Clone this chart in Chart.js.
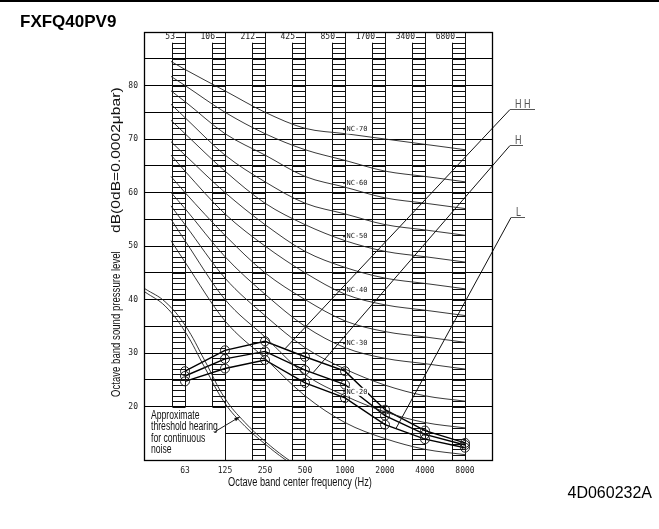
<!DOCTYPE html>
<html>
<head>
<meta charset="utf-8">
<script src="https://cdn.jsdelivr.net/npm/chart.js@4.4.1/dist/chart.umd.min.js"></script>
<style>
  html, body { margin: 0; padding: 0; background: #fff; }
  canvas { display: block; }
</style>
</head>
<body>
<canvas id="nc-chart" width="659" height="529"></canvas>
<script>
// octave band centre frequencies (bottom ticks) and the marks in the top row
var bands = ['63', '125', '250', '500', '1000', '2000', '4000', '8000'];
var edgeLabels = ['53', '106', '212', '425', '850', '1700', '3400', '6800'];

// NC curves, x in octaves from 63 Hz; first point is the start at the left edge of the 63 Hz column
var ncX = [-0.35, 0, 1, 2, 3, 4, 5, 6, 7];
var nc70 = [84.5, 83, 79, 75, 72, 71, 70, 69, 68];
var nc65 = [81.7, 80, 75, 71, 68, 66, 64, 63, 62];
var nc60 = [79, 77, 71, 67, 63, 61, 59, 58, 57];
var nc55 = [76.5, 74, 67, 62, 58, 56, 54, 53, 52];
var nc50 = [73.5, 71, 64, 58, 54, 51, 49, 48, 47];
var nc45 = [69.5, 67, 60, 54, 49, 46, 44, 43, 42];
var nc40 = [67, 64, 56, 50, 45, 41, 39, 38, 37];
var nc35 = [63, 60, 52, 45, 40, 36, 34, 33, 32];
var nc30 = [60, 57, 48, 41, 35, 31, 29, 28, 27];
var nc25 = [57.5, 54, 44, 37, 31, 27, 24, 22, 21];
var nc20 = [55, 51, 40, 33, 26, 22, 19, 17, 16];
var nc15 = [51, 47, 36, 29, 22, 17, 14, 12, 11];

// measured levels per band
var levelHH = [26.6, 30.5, 32.2, 29.3, 26.6, 19.4, 15.5, 13.2];
var levelH = [25.7, 28.9, 30.3, 26.8, 24.1, 18.3, 14.8, 12.8];
var levelL = [24.7, 27.1, 28.7, 24.4, 21.6, 16.6, 13.9, 12.3];

// threshold of hearing (double line)
var thrX = [-1, -0.5, 0, 0.5, 1, 1.5, 2, 2.5, 3];
var thrA = [42, 39.6, 35.2, 28.5, 21.5, 17, 13.5, 10.5, 8];
var thrB = [41.4, 38.8, 34, 27.2, 20.6, 16.3, 13, 10.1, 7.7];

var yTicks = [10, 15, 20, 25, 30, 35, 40, 45, 50, 55, 60, 65, 70, 75, 80, 85, 90];

function pts(xs, ys) {
  return ys.map(function(v, i) { return {x: xs[i], y: v}; });
}
var bandX = bands.map(function(b, i) { return i; });

var ncList = [nc70, nc65, nc60, nc55, nc50, nc45, nc40, nc35, nc30, nc25, nc20, nc15];
var ncTitles = ['NC-70', '', 'NC-60', '', 'NC-50', '', 'NC-40', '', 'NC-30', '', 'NC-20', ''];

var datasets = [];
ncList.forEach(function(c, k) {
  datasets.push({
    label: ncTitles[k] || 'nc',
    data: pts(ncX, c),
    borderColor: '#222',
    borderWidth: 0.9,
    pointRadius: 0,
    cubicInterpolationMode: 'monotone'
  });
});
[thrA, thrB].forEach(function(t) {
  datasets.push({
    label: 'threshold',
    data: pts(thrX, t),
    borderColor: '#222',
    borderWidth: 0.9,
    pointRadius: 0,
    tension: 0.4
  });
});
[levelHH, levelH, levelL].forEach(function(s, k) {
  datasets.push({
    label: ['HH', 'H', 'L'][k],
    data: pts(bandX, s),
    borderColor: '#000',
    borderWidth: 1.4,
    tension: 0,
    pointRadius: 4.5,
    pointBorderWidth: 1,
    pointBorderColor: '#222',
    pointBackgroundColor: 'rgba(0,0,0,0)'
  });
});

var mono = '"DejaVu Sans Mono", monospace';
var sans = '"Liberation Sans", Arial, sans-serif';

function line(ctx, x1, y1, x2, y2) {
  ctx.beginPath();
  ctx.moveTo(x1, y1);
  ctx.lineTo(x2, y2);
  ctx.stroke();
}

// condensed / stretched text, like the faces of the original drawing
function narrowText(ctx, t, x, y, size, sx) {
  ctx.save();
  ctx.translate(x, y);
  ctx.scale(sx, 1);
  ctx.font = size + 'px ' + sans;
  ctx.fillText(t, 0, 0);
  ctx.restore();
}

var decor = {
  id: 'decor',
  beforeDatasetsDraw: function(chart) {
    var ctx = chart.ctx, xs = chart.scales.x, ys = chart.scales.y, a = chart.chartArea;
    ctx.save();
    // white panel for the threshold note
    var boxR = Math.round(xs.getPixelForValue(1)) + 0.5;
    ctx.fillStyle = '#fff';
    ctx.fillRect(a.left, ys.getPixelForValue(20) + 1, boxR - a.left, a.bottom - ys.getPixelForValue(20) - 1);
    // hatched columns
    ctx.strokeStyle = '#111';
    ctx.lineWidth = 1;
    bands.forEach(function(b, i) {
      var xl = Math.round(xs.getPixelForValue(i - 0.33)) + 0.5;
      var xr = Math.round(xs.getPixelForValue(i)) + 0.5;
      var low = i < 2 ? 20 : 10;
      line(ctx, xr, a.top, xr, i === 1 ? a.bottom : ys.getPixelForValue(low));
      line(ctx, xl, ys.getPixelForValue(88), xl, ys.getPixelForValue(low));
      for (var d = 88; d >= low; d--) {
        var yy = Math.round(ys.getPixelForValue(d)) + 0.5;
        line(ctx, xl, yy, xr, yy);
      }
    });
    ctx.restore();
  },
  afterDatasetsDraw: function(chart) {
    var ctx = chart.ctx, xs = chart.scales.x, ys = chart.scales.y, a = chart.chartArea;
    ctx.save();
    // top row labels
    ctx.font = '8px ' + mono;
    ctx.fillStyle = '#222';
    ctx.strokeStyle = '#222';
    ctx.lineWidth = 1;
    ctx.textAlign = 'right';
    ctx.textBaseline = 'middle';
    var yh = ys.getPixelForValue(89);
    edgeLabels.forEach(function(t, i) {
      var xr = xs.getPixelForValue(i);
      ctx.fillText(t, xr - 10, yh);
      line(ctx, xr - 9, Math.round(yh) + 0.5, xr, Math.round(yh) + 0.5);
    });
    // NC labels sitting on their curves
    ctx.font = '7px ' + mono;
    ctx.textAlign = 'center';
    ncList.forEach(function(c, k) {
      if (!ncTitles[k]) return;
      var x = xs.getPixelForValue(4.3), y = ys.getPixelForValue(c[5]) - 4;
      ctx.fillStyle = '#fff';
      ctx.fillRect(x - 11, y - 4, 22, 8);
      ctx.fillStyle = '#222';
      ctx.fillText(ncTitles[k], x, y);
      line(ctx, x - 14, y, x - 11, y);
    });
    // threshold note
    ctx.textAlign = 'left';
    ctx.textBaseline = 'middle';
    ctx.fillStyle = '#111';
    var note = ['Approximate', 'threshold hearing', 'for continuous', 'noise'];
    var y20 = ys.getPixelForValue(20);
    note.forEach(function(t, i) {
      narrowText(ctx, t, a.left + 7, y20 + 9 + i * 11.5, 12, 0.72);
    });
    var p1x = xs.getPixelForValue(0.75), p1y = ys.getPixelForValue(15.3);
    var p2x = xs.getPixelForValue(1.375), p2y = ys.getPixelForValue(18.1);
    line(ctx, p1x, p1y, p2x, p2y);
    var ang = Math.atan2(p2y - p1y, p2x - p1x);
    ctx.beginPath();
    ctx.moveTo(p2x, p2y);
    ctx.lineTo(p2x - 6 * Math.cos(ang - 0.3), p2y - 6 * Math.sin(ang - 0.3));
    ctx.lineTo(p2x - 6 * Math.cos(ang + 0.3), p2y - 6 * Math.sin(ang + 0.3));
    ctx.closePath();
    ctx.fill();
    // leaders to HH / H / L
    var leaders = [
      {t: 'H H', lx: 8.125, lx2: 8.75, ly: 75.7, ex: 2.5, ey: 30.8},
      {t: 'H', lx: 8.125, lx2: 8.45, ly: 68.8, ex: 3.2, ey: 26.3},
      {t: 'L', lx: 8.15, lx2: 8.5, ly: 55.4, ex: 5.275, ey: 15.9}
    ];
    ctx.fillStyle = '#555';
    ctx.textBaseline = 'alphabetic';
    leaders.forEach(function(o) {
      var x1 = xs.getPixelForValue(o.lx), x2 = xs.getPixelForValue(o.lx2);
      var y1 = Math.round(ys.getPixelForValue(o.ly)) + 0.5;
      ctx.strokeStyle = '#111';
      line(ctx, xs.getPixelForValue(o.ex), ys.getPixelForValue(o.ey), x1, y1);
      ctx.strokeStyle = '#555';
      line(ctx, x1, y1, x2, y1);
      narrowText(ctx, o.t, x1 + 5, y1 - 2, 12, 0.75);
    });
    // frame
    ctx.lineWidth = 1.3;
    ctx.strokeStyle = '#000';
    ctx.strokeRect(Math.round(a.left) + 0.5, Math.round(a.top) + 0.5, Math.round(a.right - a.left), Math.round(a.bottom - a.top));
    ctx.restore();
  },
  afterDraw: function(chart) {
    var ctx = chart.ctx;
    ctx.save();
    ctx.fillStyle = '#000';
    ctx.fillRect(0, 0, chart.width, 2);
    ctx.font = 'bold 17px ' + sans;
    ctx.textBaseline = 'middle';
    ctx.textAlign = 'left';
    ctx.fillText('FXFQ40PV9', 20, 22);
    ctx.font = '16px ' + sans;
    ctx.textAlign = 'right';
    ctx.fillText('4D060232A', 652, 494);
    // axis titles
    ctx.fillStyle = '#111';
    ctx.textAlign = 'center';
    narrowText(ctx, 'Octave band center frequency (Hz)', 300, 483, 12, 0.77);
    ctx.save();
    ctx.translate(117, 0);
    ctx.rotate(-Math.PI / 2);
    ctx.textAlign = 'left';
    narrowText(ctx, 'Octave band sound pressure level', -397, 0, 12, 0.8);
    narrowText(ctx, 'dB(0dB=0.0002\u03bcbar)', -233, 0, 12, 1.3);
    ctx.restore();
    ctx.restore();
  }
};

new Chart(document.getElementById('nc-chart').getContext('2d'), {
  type: 'line',
  data: { datasets: datasets },
  plugins: [decor],
  options: {
    responsive: false,
    animation: false,
    devicePixelRatio: 1,
    layout: { padding: { left: 105, right: 167, top: 32, bottom: 0 } },
    plugins: { legend: { display: false }, tooltip: { enabled: false } },
    scales: {
      x: {
        type: 'linear',
        min: -1.025,
        max: 7.675,
        afterBuildTicks: function(s) {
          s.ticks = bandX.map(function(i) { return {value: i}; });
        },
        afterFit: function(s) { s.height = 69; },
        grid: { display: false, drawTicks: false },
        border: { display: false },
        ticks: {
          autoSkip: false,
          maxRotation: 0,
          padding: 6,
          color: '#222',
          font: { family: mono, size: 8 },
          callback: function(v) { return bands[Math.round(v)]; }
        }
      },
      y: {
        min: 10,
        max: 90,
        afterBuildTicks: function(s) {
          s.ticks = yTicks.map(function(v) { return {value: v}; });
        },
        afterFit: function(s) { s.width = 39; },
        grid: { color: '#000', lineWidth: 1, drawTicks: false },
        border: { display: false },
        ticks: {
          padding: 6,
          color: '#222',
          font: { family: mono, size: 8 },
          callback: function(v) { return (v % 10 === 0 && v >= 20 && v <= 80) ? String(v) : ''; }
        }
      }
    }
  }
});
</script>
</body>
</html>
